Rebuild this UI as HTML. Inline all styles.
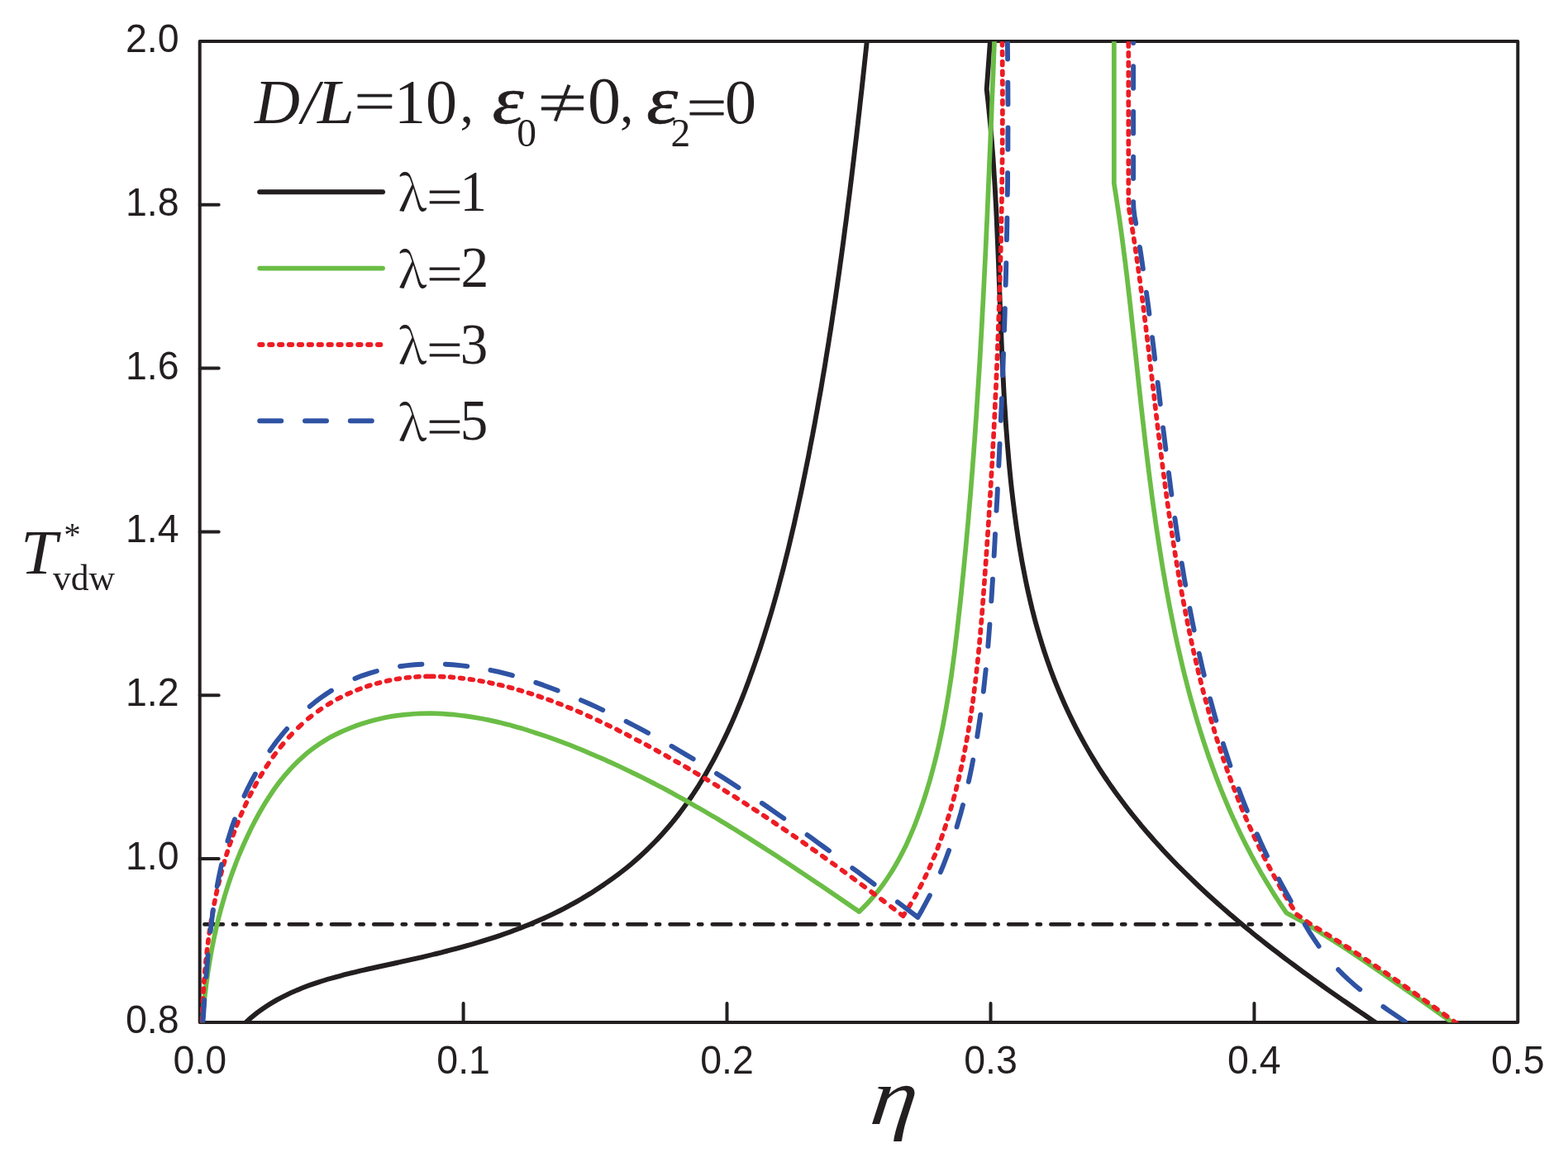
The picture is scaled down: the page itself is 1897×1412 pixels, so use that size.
<!DOCTYPE html>
<html lang="en"><head><meta charset="utf-8"><title>T*vdw vs eta</title>
<style>html,body{margin:0;padding:0;background:#fff}body{width:1897px;height:1412px;overflow:hidden}svg{display:block}.a{font-family:"Liberation Sans",Arial,Helvetica,sans-serif;font-size:46.5px;fill:#231f20}.s{font-family:"Liberation Serif","Times New Roman",Times,serif;fill:#231f20}.c{fill:none;stroke-linecap:round;stroke-linejoin:round}</style></head><body>
<svg xmlns="http://www.w3.org/2000/svg" width="1897" height="1412" viewBox="0 0 1897 1412">
<rect width="1897" height="1412" fill="#fff"/>
<defs><clipPath id="cp"><rect x="241.4" y="50.2" width="1595.2" height="1187.1"/></clipPath></defs>
<g fill="none" stroke="#231f20" stroke-width="4.0" stroke-linecap="round" stroke-linejoin="round">
<rect x="241.7" y="50.0" width="1594.6" height="1186.9"/>
<path d="M560.6 1236.9V1213.9M879.5 1236.9V1213.9M1198.5 1236.9V1213.9M1517.4 1236.9V1213.9M241.7 247.8H264.7M241.7 445.6H264.7M241.7 643.5H264.7M241.7 841.3H264.7M241.7 1039.1H264.7"/>
</g>
<g clip-path="url(#cp)" class="c">
<path d="M247.4 1118.4H1565.0" stroke="#231f20" stroke-width="4.7" stroke-dasharray="22.4 12.1 4.2 12.5"/>
<path d="M291 1243.5C294.4 1240.2 297.7 1236.7 301.3 1233.5C304.7 1230.4 308.4 1227.5 312.1 1224.6C315.8 1221.9 319.6 1219.2 323.5 1216.7C327.4 1214.2 331.3 1211.9 335.3 1209.6C339.4 1207.4 343.5 1205.3 347.6 1203.3C351.7 1201.3 356 1199.5 360.2 1197.7C364.5 1195.9 368.8 1194.2 373.1 1192.6C377.4 1191 381.8 1189.5 386.2 1188.1C390.7 1186.7 395.1 1185.3 399.6 1184C404.1 1182.7 408.6 1181.4 413.1 1180.3C417.6 1179 422.2 1177.9 426.7 1176.8C431.3 1175.7 435.9 1174.6 440.5 1173.6C445.1 1172.5 449.7 1171.5 454.3 1170.5C458.9 1169.5 463.5 1168.5 468.2 1167.5C472.8 1166.5 477.4 1165.5 482 1164.5C486.6 1163.4 491.2 1162.4 495.8 1161.4C500.4 1160.4 505 1159.3 509.6 1158.3C514.2 1157.2 518.8 1156.1 523.3 1155C527.9 1153.9 532.5 1152.8 537 1151.6C541.6 1150.5 546.1 1149.3 550.6 1148.1C555.2 1146.9 559.7 1145.7 564.2 1144.4C568.7 1143.2 573.2 1141.9 577.6 1140.5C582.1 1139.2 586.6 1137.8 591 1136.4C595.5 1135 599.9 1133.6 604.3 1132.1C608.7 1130.6 613.1 1129 617.5 1127.5C621.9 1125.9 626.2 1124.2 630.6 1122.5C634.9 1120.9 639.2 1119.1 643.5 1117.3C647.8 1115.5 652.1 1113.7 656.4 1111.8C660.6 1109.9 664.9 1107.9 669.1 1105.9C673.3 1103.8 677.5 1101.7 681.7 1099.6C685.8 1097.4 690 1095.2 694.1 1092.9C698.2 1090.7 702.2 1088.3 706.3 1085.9C710.3 1083.5 714.3 1081.1 718.3 1078.5C722.2 1076 726.1 1073.4 730 1070.8C733.9 1068.1 737.7 1065.4 741.5 1062.7C745.3 1059.9 749 1057.1 752.7 1054.2C756.4 1051.3 760 1048.4 763.6 1045.4C767.2 1042.4 770.7 1039.3 774.1 1036.2C777.6 1033.1 781 1029.9 784.3 1026.6C787.7 1023.4 790.9 1020.1 794.1 1016.8C797.3 1013.4 800.5 1010 803.5 1006.5C806.6 1003.1 809.6 999.5 812.6 996C815.5 992.4 818.4 988.8 821.2 985.1C824 981.4 826.8 977.7 829.5 973.9C832.2 970.1 834.9 966.3 837.5 962.5C840 958.6 842.6 954.7 845.1 950.8C847.5 946.8 850 942.9 852.4 938.8C854.7 934.8 857.1 930.8 859.3 926.7C861.6 922.6 863.8 918.5 866 914.3C868.2 910.2 870.3 906 872.4 901.8C874.5 897.6 876.6 893.4 878.6 889.1C880.6 884.8 882.6 880.6 884.5 876.3C886.4 871.9 888.3 867.6 890.1 863.3C892 858.9 893.8 854.6 895.6 850.2C897.3 845.8 899.1 841.4 900.8 837C902.5 832.6 904.1 828.2 905.8 823.8C907.4 819.3 909 814.9 910.6 810.4C912.2 806 913.7 801.6 915.3 797.1C916.8 792.6 918.3 788.2 919.8 783.7C921.2 779.3 922.7 774.8 924.1 770.3C925.5 765.9 926.9 761.4 928.3 756.9C929.7 752.4 931 748 932.4 743.5C933.7 739 935 734.5 936.3 730C937.6 725.5 938.8 721 940.1 716.5C941.3 712 942.5 707.5 943.7 703C944.9 698.5 946.1 694 947.3 689.5C948.5 685 949.6 680.5 950.7 675.9C951.9 671.4 953 666.9 954.1 662.4C955.2 657.8 956.2 653.3 957.3 648.8C958.4 644.2 959.4 639.7 960.5 635.2C961.5 630.6 962.5 626.1 963.5 621.5C964.6 617 965.6 612.4 966.5 607.9C967.5 603.3 968.5 598.8 969.5 594.2C970.4 589.6 971.4 585.1 972.3 580.5C973.3 576 974.2 571.4 975.1 566.8C976 562.2 977 557.7 977.9 553.1C978.8 548.5 979.7 543.9 980.5 539.3C981.4 534.8 982.3 530.2 983.2 525.6C984 521 984.9 516.4 985.8 511.8C986.6 507.2 987.4 502.6 988.3 498C989.1 493.4 989.9 488.8 990.7 484.2C991.6 479.6 992.4 475 993.2 470.4C994 465.8 994.8 461.2 995.5 456.6C996.3 452 997.1 447.3 997.9 442.7C998.6 438.1 999.4 433.5 1000.1 428.9C1000.9 424.2 1001.6 419.6 1002.4 415C1003.1 410.4 1003.8 405.7 1004.6 401.1C1005.3 396.5 1006 391.9 1006.7 387.2C1007.4 382.6 1008.1 378 1008.8 373.3C1009.5 368.7 1010.2 364.1 1010.9 359.4C1011.5 354.8 1012.2 350.2 1012.9 345.5C1013.5 340.9 1014.2 336.2 1014.9 331.6C1015.5 327 1016.2 322.3 1016.8 317.7C1017.5 313 1018.1 308.4 1018.7 303.8C1019.4 299.1 1020 294.5 1020.6 289.8C1021.2 285.2 1021.8 280.5 1022.4 275.9C1023.1 271.2 1023.7 266.6 1024.3 261.9C1024.9 257.3 1025.4 252.6 1026 248C1026.6 243.3 1027.2 238.7 1027.8 234.1C1028.4 229.4 1028.9 224.8 1029.5 220.1C1030.1 215.5 1030.7 210.8 1031.2 206.2C1031.8 201.5 1032.3 196.9 1032.9 192.2C1033.4 187.6 1034 182.9 1034.5 178.3C1035.1 173.6 1035.6 169 1036.2 164.3C1036.7 159.7 1037.2 155 1037.8 150.4C1038.3 145.7 1038.8 141.1 1039.4 136.4C1039.9 131.8 1040.4 127.1 1040.9 122.5C1041.4 117.9 1042 113.2 1042.5 108.6C1043 103.9 1043.5 99.3 1044 94.6C1044.5 90 1045 85.4 1045.5 80.7C1046 76.1 1046.5 71.4 1047 66.8C1047.5 62.2 1048 57.5 1048.5 52.9C1049 48.3 1049.5 43.6 1050 39M1198.3 44C1198.2 46.1 1198.1 48.3 1197.9 50.4C1196.5 69.7 1195.1 88.9 1193.7 108.2C1194.2 112.9 1194.8 117.5 1195.3 122.2C1195.8 126.8 1196.3 131.5 1196.7 136.2C1197.2 140.8 1197.6 145.5 1198.1 150.1C1198.5 154.8 1198.9 159.5 1199.3 164.1C1199.7 168.8 1200.1 173.4 1200.4 178.1C1200.8 182.8 1201.1 187.4 1201.5 192.1C1201.8 196.8 1202.1 201.4 1202.4 206.1C1202.7 210.8 1203 215.4 1203.3 220.1C1203.6 224.8 1203.9 229.4 1204.1 234.1C1204.4 238.8 1204.6 243.4 1204.9 248.1C1205.1 252.8 1205.4 257.4 1205.6 262.1C1205.8 266.8 1206 271.4 1206.2 276.1C1206.4 280.8 1206.6 285.4 1206.8 290.1C1207 294.8 1207.2 299.4 1207.4 304.1C1207.6 308.8 1207.8 313.5 1208 318.1C1208.2 322.8 1208.3 327.5 1208.5 332.1C1208.7 336.8 1208.9 341.5 1209 346.2C1209.2 350.8 1209.4 355.5 1209.6 360.2C1209.7 364.8 1209.9 369.5 1210.1 374.2C1210.2 378.8 1210.4 383.5 1210.6 388.2C1210.8 392.9 1211 397.5 1211.2 402.2C1211.3 406.9 1211.5 411.5 1211.7 416.2C1211.9 420.9 1212.1 425.6 1212.3 430.2C1212.5 434.9 1212.8 439.6 1213 444.2C1213.2 448.9 1213.4 453.6 1213.7 458.2C1213.9 462.9 1214.2 467.6 1214.4 472.2C1214.7 476.9 1214.9 481.6 1215.2 486.3C1215.5 490.9 1215.8 495.6 1216.1 500.3C1216.4 504.9 1216.7 509.6 1217 514.3C1217.4 518.9 1217.7 523.6 1218.1 528.3C1218.4 532.9 1218.8 537.6 1219.2 542.3C1219.6 546.9 1220 551.6 1220.4 556.3C1220.8 560.9 1221.3 565.6 1221.7 570.2C1222.2 574.9 1222.6 579.6 1223.1 584.2C1223.6 588.9 1224.1 593.6 1224.7 598.2C1225.2 602.9 1225.8 607.5 1226.4 612.2C1226.9 616.9 1227.5 621.5 1228.2 626.2C1228.8 630.8 1229.4 635.5 1230.1 640.1C1230.8 644.8 1231.5 649.4 1232.2 654.1C1232.9 658.7 1233.7 663.3 1234.5 668C1235.3 672.6 1236.1 677.2 1236.9 681.9C1237.8 686.5 1238.7 691.1 1239.6 695.7C1240.5 700.3 1241.4 704.9 1242.4 709.5C1243.4 714.1 1244.4 718.6 1245.5 723.2C1246.5 727.8 1247.6 732.3 1248.7 736.9C1249.9 741.4 1251 745.9 1252.2 750.5C1253.4 755 1254.7 759.5 1256 764C1257.3 768.5 1258.6 772.9 1260 777.4C1261.3 781.9 1262.8 786.3 1264.2 790.7C1265.7 795.2 1267.2 799.6 1268.8 804C1270.3 808.4 1271.9 812.7 1273.6 817.1C1275.2 821.5 1276.9 825.8 1278.7 830.1C1280.4 834.4 1282.2 838.7 1284.1 843C1285.9 847.3 1287.8 851.6 1289.7 855.8C1291.7 860 1293.6 864.2 1295.7 868.4C1297.7 872.6 1299.8 876.8 1301.9 880.9C1304 885 1306.2 889.2 1308.4 893.2C1310.6 897.3 1312.9 901.4 1315.2 905.4C1317.5 909.5 1319.9 913.5 1322.3 917.4C1324.7 921.4 1327.1 925.4 1329.6 929.3C1332.1 933.2 1334.7 937.1 1337.3 941C1339.9 944.8 1342.5 948.7 1345.2 952.5C1347.8 956.3 1350.5 960.1 1353.3 963.8C1356.1 967.6 1358.9 971.3 1361.7 975C1364.5 978.7 1367.4 982.3 1370.3 986C1373.2 989.6 1376.2 993.2 1379.2 996.8C1382.1 1000.4 1385.2 1004 1388.2 1007.5C1391.3 1011.1 1394.4 1014.6 1397.5 1018.1C1400.6 1021.6 1403.8 1025 1406.9 1028.5C1410.1 1031.9 1413.3 1035.3 1416.6 1038.7C1419.8 1042.1 1423.1 1045.4 1426.4 1048.8C1429.7 1052.1 1433 1055.4 1436.4 1058.7C1439.7 1062 1443.1 1065.3 1446.5 1068.5C1449.9 1071.8 1453.3 1075 1456.8 1078.2C1460.2 1081.4 1463.7 1084.6 1467.2 1087.7C1470.7 1090.9 1474.2 1094 1477.7 1097.1C1481.3 1100.2 1484.8 1103.3 1488.4 1106.4C1491.9 1109.4 1495.5 1112.5 1499.1 1115.5C1502.7 1118.5 1506.3 1121.5 1510 1124.5C1513.6 1127.5 1517.3 1130.4 1520.9 1133.4C1524.6 1136.3 1528.2 1139.2 1531.9 1142.1C1535.6 1145 1539.3 1147.9 1543 1150.7C1546.7 1153.6 1550.5 1156.5 1554.2 1159.3C1557.9 1162.1 1561.7 1164.9 1565.4 1167.7C1569.2 1170.5 1572.9 1173.3 1576.7 1176.1C1580.5 1178.8 1584.3 1181.6 1588.1 1184.3C1591.9 1187 1595.7 1189.8 1599.5 1192.5C1603.3 1195.2 1607.1 1197.9 1610.9 1200.6C1614.7 1203.2 1618.5 1205.9 1622.4 1208.6C1626.2 1211.2 1630 1213.9 1633.9 1216.5C1637.7 1219.2 1641.5 1221.8 1645.4 1224.4C1649.2 1227 1653.1 1229.6 1656.9 1232.2C1660.8 1234.8 1664.6 1237.4 1668.5 1240" stroke="#231f20" stroke-width="5.9"/>
<path d="M244.6 1240C245 1235.3 245.3 1230.6 245.7 1225.9C246.2 1221.3 246.6 1216.6 247.1 1211.9C247.6 1207.2 248.1 1202.5 248.7 1197.9C249.2 1193.2 249.8 1188.5 250.5 1183.9C251.1 1179.2 251.8 1174.6 252.6 1169.9C253.3 1165.3 254.1 1160.7 254.9 1156C255.7 1151.4 256.6 1146.8 257.5 1142.2C258.4 1137.6 259.3 1133 260.4 1128.4C261.4 1123.8 262.4 1119.3 263.5 1114.7C264.6 1110.2 265.8 1105.6 267 1101.1C268.2 1096.6 269.5 1092.1 270.8 1087.6C272.1 1083.1 273.5 1078.6 274.9 1074.1C276.3 1069.7 277.8 1065.2 279.4 1060.8C280.9 1056.4 282.5 1052 284.2 1047.6C285.8 1043.2 287.5 1038.8 289.3 1034.5C291.1 1030.1 293 1025.8 294.9 1021.5C296.8 1017.2 298.8 1012.9 300.8 1008.7C302.8 1004.4 304.9 1000.2 307.1 996C309.3 991.8 311.5 987.6 313.8 983.5C316.2 979.3 318.5 975.3 321 971.2C323.5 967.2 326.1 963.2 328.7 959.3C331.3 955.4 334.1 951.6 336.9 947.8C339.7 944.1 342.7 940.4 345.7 936.9C348.7 933.3 351.8 929.8 355.1 926.5C358.3 923.1 361.6 919.9 365.1 916.8C368.6 913.6 372.1 910.6 375.8 907.8C379.5 904.9 383.3 902.2 387.2 899.6C391.2 897.1 395.2 894.6 399.3 892.3C403.4 890 407.7 887.9 411.9 885.9C416.2 883.9 420.6 882 425 880.3C429.4 878.5 433.9 876.9 438.4 875.5C443 874 447.5 872.7 452.1 871.5C456.7 870.3 461.3 869.2 465.9 868.3C470.5 867.4 475.1 866.6 479.8 865.9C484.4 865.3 489 864.7 493.6 864.3C498.3 863.9 502.9 863.6 507.5 863.4C512.2 863.3 516.8 863.2 521.5 863.2C526.1 863.3 530.7 863.4 535.4 863.7C540 863.9 544.7 864.3 549.3 864.7C553.9 865.2 558.6 865.7 563.2 866.4C567.8 867 572.4 867.7 577 868.5C581.7 869.3 586.3 870.2 590.9 871.1C595.5 872.1 600.1 873.1 604.7 874.2C609.3 875.3 613.8 876.5 618.4 877.7C623 879 627.5 880.3 632.1 881.6C636.6 883 641.1 884.4 645.6 885.9C650.2 887.3 654.7 888.8 659.2 890.4C663.6 891.9 668.1 893.5 672.6 895.2C677 896.8 681.5 898.5 685.9 900.2C690.3 901.9 694.7 903.6 699.1 905.4C703.5 907.1 707.8 908.9 712.2 910.8C716.5 912.6 720.8 914.5 725.2 916.3C729.5 918.2 733.8 920.1 738.1 922.1C742.3 924 746.6 926 750.9 928C755.1 930 759.3 932 763.6 934.1C767.8 936.1 772 938.2 776.2 940.3C780.4 942.4 784.6 944.5 788.7 946.6C792.9 948.8 797.1 950.9 801.2 953.1C805.3 955.3 809.5 957.5 813.6 959.8C817.7 962 821.8 964.3 825.9 966.5C830 968.8 834.1 971.1 838.1 973.4C842.2 975.8 846.3 978.1 850.3 980.4C854.4 982.8 858.4 985.2 862.4 987.6C866.5 989.9 870.5 992.4 874.5 994.8C878.5 997.2 882.5 999.6 886.5 1002.1C890.5 1004.5 894.5 1007 898.5 1009.5C902.4 1012 906.4 1014.5 910.4 1017C914.3 1019.5 918.3 1022 922.2 1024.5C926.2 1027.1 930.1 1029.6 934.1 1032.2C938 1034.7 942 1037.3 945.9 1039.9C949.8 1042.5 953.7 1045.1 957.6 1047.6C961.6 1050.2 965.5 1052.9 969.4 1055.5C973.3 1058.1 977.2 1060.7 981.1 1063.3C985 1066 988.9 1068.6 992.8 1071.2C996.7 1073.9 1000.6 1076.5 1004.5 1079.2C1008.4 1081.8 1012.3 1084.5 1016.2 1087.1C1020.1 1089.8 1024 1092.4 1027.8 1095.1C1031.7 1097.8 1035.6 1100.4 1039.5 1103.1C1042.9 1099.7 1046.4 1096.3 1049.7 1092.8C1052.9 1089.3 1056.1 1085.7 1059.1 1082C1062.1 1078.4 1065 1074.7 1067.8 1070.8C1070.6 1067 1073.2 1063.2 1075.8 1059.2C1078.4 1055.3 1080.8 1051.3 1083.2 1047.2C1085.6 1043.2 1087.8 1039.1 1090 1034.9C1092.2 1030.8 1094.2 1026.6 1096.3 1022.4C1098.3 1018.1 1100.2 1013.8 1102 1009.5C1103.9 1005.2 1105.7 1000.9 1107.4 996.5C1109.1 992.1 1110.7 987.7 1112.3 983.3C1113.9 978.9 1115.5 974.4 1116.9 970C1118.4 965.5 1119.9 961.1 1121.2 956.6C1122.6 952.1 1124 947.6 1125.3 943C1126.5 938.5 1127.8 934 1129 929.4C1130.2 924.9 1131.3 920.3 1132.5 915.8C1133.6 911.2 1134.7 906.6 1135.7 902C1136.7 897.4 1137.7 892.8 1138.7 888.2C1139.7 883.6 1140.6 878.9 1141.5 874.3C1142.4 869.6 1143.2 865 1144.1 860.3C1144.9 855.7 1145.7 851 1146.5 846.3C1147.3 841.7 1148 837 1148.7 832.3C1149.5 827.6 1150.2 822.9 1150.9 818.2C1151.5 813.5 1152.2 808.8 1152.8 804.1C1153.5 799.4 1154.1 794.7 1154.7 790C1155.3 785.3 1155.9 780.6 1156.4 775.8C1157 771.1 1157.6 766.4 1158.1 761.7C1158.7 757 1159.2 752.2 1159.7 747.5C1160.2 742.8 1160.8 738.1 1161.3 733.3C1161.8 728.6 1162.3 723.9 1162.8 719.2C1163.3 714.5 1163.8 709.7 1164.2 705C1164.7 700.3 1165.2 695.6 1165.7 690.9C1166.1 686.2 1166.6 681.4 1167 676.7C1167.5 672 1167.9 667.3 1168.4 662.6C1168.8 657.9 1169.3 653.1 1169.7 648.4C1170.1 643.7 1170.5 639 1171 634.3C1171.4 629.6 1171.8 624.9 1172.2 620.1C1172.6 615.4 1173 610.7 1173.4 606C1173.8 601.3 1174.2 596.6 1174.6 591.9C1174.9 587.2 1175.3 582.5 1175.7 577.7C1176.1 573 1176.4 568.3 1176.8 563.6C1177.1 558.9 1177.5 554.2 1177.9 549.5C1178.2 544.8 1178.5 540.1 1178.9 535.4C1179.2 530.6 1179.6 525.9 1179.9 521.2C1180.2 516.5 1180.5 511.8 1180.9 507.1C1181.2 502.4 1181.5 497.7 1181.8 493C1182.1 488.3 1182.4 483.6 1182.7 478.8C1183 474.1 1183.3 469.4 1183.6 464.7C1183.9 460 1184.2 455.3 1184.5 450.6C1184.8 445.9 1185.1 441.2 1185.4 436.5C1185.6 431.8 1185.9 427 1186.2 422.3C1186.5 417.6 1186.7 412.9 1187 408.2C1187.3 403.5 1187.5 398.8 1187.8 394.1C1188 389.4 1188.3 384.7 1188.5 380C1188.8 375.2 1189 370.5 1189.3 365.8C1189.5 361.1 1189.8 356.4 1190 351.7C1190.3 347 1190.5 342.3 1190.7 337.6C1191 332.9 1191.2 328.1 1191.4 323.4C1191.7 318.7 1191.9 314 1192.1 309.3C1192.3 304.6 1192.6 299.9 1192.8 295.1C1193 290.4 1193.2 285.7 1193.4 281C1193.6 276.3 1193.9 271.6 1194.1 266.9C1194.3 262.1 1194.5 257.4 1194.7 252.7C1194.9 248 1195.1 243.3 1195.3 238.6C1195.5 233.8 1195.7 229.1 1195.9 224.4C1196.1 219.7 1196.3 215 1196.5 210.3C1196.7 205.5 1196.9 200.8 1197.1 196.1C1197.3 191.4 1197.5 186.6 1197.7 181.9C1197.9 177.2 1198.1 172.5 1198.3 167.8C1198.5 163 1198.7 158.3 1198.9 153.6C1199.1 148.9 1199.3 144.1 1199.5 139.4C1199.7 134.7 1199.8 129.9 1200 125.2C1200.2 120.5 1200.4 115.8 1200.6 111C1200.8 106.3 1201 101.6 1201.2 96.8C1201.4 92.1 1201.6 87.4 1201.8 82.6C1202 77.9 1202.1 73.2 1202.3 68.4C1202.5 63.7 1202.7 59 1202.9 54.2C1203.1 49.5 1203.3 44.7 1203.5 40M1347.8 40L1347.8 222C1348.5 226.6 1349.3 231.3 1350 235.9C1350.7 240.6 1351.4 245.2 1352.1 249.9C1352.8 254.5 1353.5 259.2 1354.2 263.8C1354.8 268.4 1355.5 273.1 1356.1 277.7C1356.8 282.4 1357.4 287.1 1358 291.7C1358.6 296.4 1359.2 301 1359.8 305.7C1360.4 310.3 1361 315 1361.6 319.6C1362.1 324.3 1362.7 329 1363.3 333.6C1363.8 338.3 1364.4 342.9 1364.9 347.6C1365.4 352.3 1366 356.9 1366.5 361.6C1367 366.2 1367.6 370.9 1368.1 375.6C1368.6 380.2 1369.1 384.9 1369.6 389.6C1370.1 394.2 1370.6 398.9 1371.1 403.6C1371.6 408.2 1372.2 412.9 1372.7 417.6C1373.2 422.2 1373.7 426.9 1374.2 431.6C1374.7 436.2 1375.2 440.9 1375.7 445.6C1376.2 450.2 1376.7 454.9 1377.2 459.6C1377.7 464.2 1378.2 468.9 1378.7 473.6C1379.2 478.2 1379.7 482.9 1380.2 487.6C1380.7 492.2 1381.3 496.9 1381.8 501.6C1382.3 506.2 1382.8 510.9 1383.4 515.6C1383.9 520.2 1384.4 524.9 1385 529.6C1385.5 534.2 1386 538.9 1386.6 543.6C1387.2 548.2 1387.7 552.9 1388.3 557.6C1388.9 562.2 1389.4 566.9 1390 571.6C1390.6 576.2 1391.2 580.9 1391.8 585.5C1392.4 590.2 1393 594.9 1393.6 599.5C1394.2 604.2 1394.9 608.8 1395.5 613.5C1396.2 618.1 1396.8 622.8 1397.5 627.4C1398.1 632.1 1398.8 636.7 1399.5 641.4C1400.2 646 1400.9 650.7 1401.6 655.3C1402.3 660 1403 664.6 1403.8 669.3C1404.5 673.9 1405.3 678.6 1406 683.2C1406.8 687.8 1407.6 692.5 1408.4 697.1C1409.2 701.8 1410 706.4 1410.8 711C1411.7 715.6 1412.5 720.3 1413.4 724.9C1414.2 729.5 1415.1 734.2 1416 738.8C1416.9 743.4 1417.8 748 1418.8 752.6C1419.7 757.3 1420.7 761.9 1421.6 766.5C1422.6 771.1 1423.6 775.7 1424.6 780.3C1425.7 784.9 1426.7 789.5 1427.8 794.1C1428.8 798.6 1429.9 803.2 1431 807.8C1432.1 812.4 1433.2 816.9 1434.4 821.5C1435.6 826.1 1436.7 830.6 1437.9 835.2C1439.1 839.7 1440.4 844.2 1441.6 848.8C1442.9 853.3 1444.2 857.8 1445.5 862.3C1446.8 866.9 1448.1 871.4 1449.5 875.8C1450.8 880.3 1452.2 884.8 1453.7 889.3C1455.1 893.8 1456.5 898.2 1458 902.7C1459.5 907.1 1461 911.6 1462.5 916C1464.1 920.4 1465.7 924.8 1467.3 929.2C1468.9 933.6 1470.5 938 1472.2 942.4C1473.8 946.7 1475.5 951.1 1477.3 955.5C1479 959.8 1480.8 964.1 1482.6 968.4C1484.4 972.8 1486.2 977.1 1488.1 981.3C1490 985.6 1491.9 989.9 1493.9 994.1C1495.8 998.4 1497.8 1002.6 1499.8 1006.9C1501.9 1011.1 1503.9 1015.3 1506 1019.5C1508.1 1023.6 1510.3 1027.8 1512.5 1031.9C1514.6 1036.1 1516.9 1040.2 1519.1 1044.3C1521.4 1048.4 1523.7 1052.5 1526 1056.6C1528.4 1060.7 1530.8 1064.7 1533.2 1068.7C1535.7 1072.8 1538.1 1076.8 1540.6 1080.8C1543.2 1084.7 1545.7 1088.7 1548.3 1092.6C1550.9 1096.6 1553.6 1100.5 1556.3 1104.4L1579.7 1117.2C1598.6 1129.2 1617.8 1140.9 1636.5 1153.3C1658.4 1167.8 1679.9 1182.9 1701.5 1197.9C1719.7 1210.5 1737.6 1223.4 1755.7 1236.2C1757.5 1237.5 1759.2 1238.7 1761 1240" stroke="#6abd45" stroke-width="5.7"/>
<path d="M244.3 1235.8L244.5 1231.8M244.8 1223.8L245 1219.8M245.4 1212L245.6 1208M246 1200L246.3 1196M246.8 1188.3L247.2 1184.3M247.8 1176.3L248.2 1172.4M248.9 1164.6L249.3 1160.7M250.2 1152.7L250.6 1148.7M251.6 1140.8L252.1 1136.8M253.2 1129.1L253.8 1124.9M255 1117.3L255.6 1113.1M257 1105.4L257.7 1101.2M259.2 1093.4L260 1089.5M261.6 1081.6L262.5 1077.7M264.3 1069.7L265.3 1065.8M267.2 1058L268.3 1053.9M270.4 1046.2L271.6 1042.1M274 1034.2L275.3 1030.1M277.8 1022.3L279.2 1018.3M281.9 1010.5L283.4 1006.5M286.3 998.8L288 994.6M291.2 986.7L292.9 982.8M296.4 975.1L298.3 971M302.1 963.1L304.1 959.1M308.2 951.3L310.3 947.4M315 939.4L317.3 935.5M322.2 927.7L325 923.5M330.4 915.7L333.3 911.7M339.3 904L342.6 899.9M349.5 892L353.1 888.1M360.8 880.3L364.9 876.5M372.8 869.6L376.7 866.5M384.7 860.5L388.5 857.8M396.5 852.6L400.4 850.2M408.2 845.8L412.2 843.7M420.1 839.9L424.2 838.1M432 834.8L436 833.3M443.8 830.5L447.8 829.2M455.7 826.9L459.6 825.9M467.6 824L471.6 823.1M479.4 821.7L483.4 821.1M491.3 820L495.3 819.6M503 819L507 818.7M515 818.4L519 818.4M520.8 818.4L524.8 818.4M532.8 818.6L536.8 818.8M544.5 819.2L548.5 819.6M556.5 820.4L560.4 820.8M568.4 821.9L572.3 822.5M580.2 823.8L584.1 824.5M592 826L595.9 826.9M603.7 828.6L607.9 829.6M615.6 831.5L619.7 832.6M627.4 834.8L631.5 836M639.4 838.4L643.5 839.7M651.3 842.3L655.3 843.7M663.1 846.4L667.1 847.9M675 850.9L679 852.4M686.9 855.6L690.8 857.2M698.6 860.5L702.6 862.2M710.6 865.8L714.4 867.5M722.4 871.2L726.2 873M734.1 876.8L738.2 878.8M746 882.6L750 884.7M757.8 888.6L761.8 890.7M769.8 894.9L773.8 897M781.5 901.1L785.5 903.2M793.4 907.5L797.3 909.7M805.2 914.1L809.3 916.4M817.2 920.9L821.1 923.1M828.9 927.6L833 930M840.7 934.6L844.8 937M852.8 941.7L856.6 944.1M864.5 948.9L868.6 951.4M876.4 956.3L880.4 958.8M888.3 963.7L892.3 966.3M900.1 971.2L904.1 973.8M911.8 978.9L916 981.6M923.7 986.7L927.7 989.3M935.6 994.6L939.5 997.3M947.4 1002.6L951.5 1005.4M959.4 1010.8L963.3 1013.5M971.1 1018.9L975.2 1021.8M982.9 1027.3L987 1030.1M994.8 1035.7L998.8 1038.6M1006.8 1044.3L1010.6 1047M1018.5 1052.8L1022.5 1055.7M1030.4 1061.5L1034.4 1064.5M1042.3 1070.3L1046.3 1073.2M1054.1 1079.1L1058.1 1082.1M1065.9 1087.9L1069.9 1090.9M1077.9 1097L1081.9 1100M1089.6 1105.9L1092.6 1108.2M1092.6 1108.2L1094.4 1105.5M1099.5 1097.5L1101.8 1093.6M1106.5 1085.6L1108.7 1081.7M1112.9 1073.8L1115 1069.8M1118.9 1061.9L1120.7 1058.1M1124.4 1050.1L1126.1 1046.2M1129.5 1038.2L1131.2 1034.3M1134.3 1026.4L1135.8 1022.4M1138.7 1014.6L1140.1 1010.6M1142.8 1002.8L1144.1 998.8M1146.6 990.9L1147.9 986.9M1150.2 979L1151.3 975.1M1153.5 967.2L1154.6 963.1M1156.7 955.3L1157.6 951.4M1159.6 943.4L1160.5 939.5M1162.3 931.7L1163.2 927.6M1164.9 919.7L1165.7 915.8M1167.2 908L1168 904M1169.4 896.2L1170.2 892M1171.6 884.1L1172.2 880.2M1173.5 872.3L1174.1 868.3M1175.3 860.6L1175.9 856.4M1177 848.8L1177.5 844.8M1178.5 836.9L1179 832.9M1180 824.9L1180.5 821M1181.4 813L1181.8 809M1182.7 801.3L1183.1 797.4M1183.9 789.4L1184.3 785.4M1185 777.7L1185.4 773.5M1186.1 765.7L1186.4 761.8M1187.1 753.8L1187.5 749.8M1188.1 742.1L1188.4 738.1M1189 730.1L1189.3 726.1M1189.9 718.4L1190.2 714.4M1190.8 706.4L1191.1 702.4M1191.6 694.7L1191.9 690.7M1192.5 682.7L1192.8 678.7M1193.3 671L1193.6 667M1194.1 659L1194.4 655M1194.9 647.3L1195.2 643.3M1195.7 635.3L1196 631.3M1196.5 623.6L1196.7 619.6M1197.2 611.6L1197.5 607.6M1197.9 599.9L1198.2 595.9M1198.6 587.9L1198.9 583.9M1199.3 576.1L1199.6 572.2M1200 564.2L1200.3 560.2M1200.7 552.4L1200.9 548.4M1201.3 540.7L1201.5 536.7M1202 528.7L1202.2 524.7M1202.6 517L1202.8 513M1203.2 505L1203.4 501M1203.8 493.2L1203.9 489.2M1204.3 481.3L1204.5 477.3M1204.9 469.5L1205.1 465.5M1205.4 457.5L1205.6 453.5M1205.9 445.8L1206.1 441.8M1206.4 434L1206.6 430M1206.9 422L1207 418M1207.3 410.3L1207.5 406.3M1207.8 398.3L1207.9 394.3M1208.2 386.6L1208.4 382.6M1208.6 374.6L1208.8 370.6M1209 362.8L1209.1 358.8M1209.4 351.1L1209.5 347.1M1209.7 339.1L1209.8 335.1M1210.1 327.3L1210.2 323.3M1210.4 315.3L1210.5 311.3M1210.7 303.6L1210.8 299.6M1211 291.8L1211 287.8M1211.2 279.8L1211.3 275.8M1211.5 268.1L1211.5 264.1M1211.7 256.1L1211.8 252.1M1211.9 244.3L1212 240.3M1212.1 232.6L1212.1 228.6M1212.2 220.6L1212.3 216.6M1212.4 208.8L1212.4 204.8M1212.5 197L1212.6 193M1212.6 185L1212.7 181M1212.7 173.3L1212.7 169.3M1212.8 161.3L1212.8 157.3M1212.8 149.5L1212.9 145.5M1212.9 137.8L1212.9 133.8M1212.9 125.8L1212.9 121.8M1212.9 114L1212.9 110M1212.9 102L1212.8 98M1212.8 90.3L1212.8 86.3M1212.7 78.5L1212.7 74.5M1212.7 66.5L1212.6 62.5M1212.6 54.8L1212.5 50.8M1365.3 52L1365.3 56M1365.3 63.8L1365.3 67.8M1365.3 75.6L1365.3 79.6M1365.3 87.6L1365.3 91.6M1365.3 99.4L1365.3 103.4M1365.3 111.1L1365.3 115.1M1365.3 123.1L1365.3 127.2M1365.3 134.9L1365.3 138.9M1365.3 146.7L1365.3 150.7M1365.3 158.7L1365.3 162.7M1365.3 170.5L1365.3 174.5M1365.3 182.2L1365.3 186.3M1365.3 194.3L1365.3 198.3M1365.3 206L1365.3 210M1365.3 217.8L1365.3 221.8M1365.3 229.8L1365.3 233.8M1365.4 241.6L1365.6 245.6M1366 253.3L1366.7 257.5M1368 265.2L1368.7 269.4M1369.9 277L1370.6 281.2M1371.8 288.9L1372.4 292.9M1373.6 300.8L1374.1 304.7M1375.3 312.6L1375.9 316.6M1377 324.5L1377.5 328.5M1378.6 336.4L1379.2 340.4M1380.2 348.3L1380.8 352.3M1381.8 360L1382.3 364.2M1383.3 371.9L1383.8 375.9M1384.8 383.8L1385.3 387.8M1386.3 395.7L1386.7 399.7M1387.7 407.4L1388.2 411.6M1389.1 419.3L1389.6 423.3M1390.5 431.2L1391 435.2M1391.9 443.1L1392.4 447.1M1393.3 454.8L1393.8 458.8M1394.7 466.7L1395.2 470.7M1396.1 478.7L1396.6 482.6M1397.5 490.3L1398 494.3M1398.9 502.3L1399.4 506.2M1400.3 514.2L1400.8 518.1M1401.8 526.1L1402.3 530.1M1403.2 537.8L1403.7 541.7M1404.7 549.7L1405.2 553.6M1406.2 561.6L1406.7 565.5M1407.7 573.5L1408.3 577.4M1409.3 585.1L1409.8 589.1M1410.9 597L1411.4 601M1412.5 608.9L1413.1 612.9M1414.2 620.8L1414.8 624.8M1415.9 632.7L1416.5 636.7M1417.7 644.6L1418.3 648.5M1419.5 656.4L1420.1 660.4M1421.4 668.3L1422 672.2M1423.3 680.1L1424 684.1M1425.3 692L1426 695.9M1427.3 703.8L1428 707.7M1429.4 715.6L1430.2 719.6M1431.6 727.4L1432.4 731.4M1433.9 739.2L1434.6 743.2M1436.2 751L1437 755.2M1438.6 763L1439.5 766.9M1441.1 774.8L1442 778.9M1443.7 786.7L1444.6 790.6M1446.4 798.4L1447.4 802.6M1449.2 810.4L1450.1 814.3M1452.1 822.3L1453.1 826.2M1455.1 834.2L1456.1 838M1458.2 846L1459.3 849.9M1461.5 857.8L1462.5 861.7M1464.8 869.6L1466 873.7M1468.3 881.4L1469.5 885.4M1471.9 893.3L1473.2 897.4M1475.7 905.2L1477 909.3M1479.6 917.1L1480.9 920.9M1483.7 928.9L1485.1 933M1487.9 940.7L1489.4 944.7M1492.4 952.7L1493.9 956.6M1496.9 964.3L1498.5 968.5M1501.6 976.2L1503.3 980.3M1506.6 988.2L1508.3 992.1M1511.7 999.9L1513.6 1004M1517.1 1011.7L1519 1015.8M1522.8 1023.7L1524.7 1027.7M1528.6 1035.6L1530.6 1039.6M1534.7 1047.4L1536.8 1051.4M1541 1059.3L1543.2 1063.2M1547.6 1071.1L1549.8 1075M1554.5 1083L1556.8 1086.9M1561.6 1094.8L1564.1 1098.8M1569.1 1106.6L1573.1 1109.4M1581 1115.1L1585 1117.8M1592.9 1122.7L1596.7 1125M1604.6 1129.9L1608.7 1132.4M1616.5 1137.4L1620.5 1139.9M1628.3 1145L1632.3 1147.5M1640.3 1152.8L1644.2 1155.4M1652.1 1160.7L1656.1 1163.3M1664 1168.7L1667.9 1171.3M1675.8 1176.7L1679.7 1179.4M1687.5 1184.8L1691.6 1187.7M1699.4 1193.2L1703.5 1196.1M1711.3 1201.6L1715.4 1204.5M1723.1 1210L1727.2 1212.9M1734.9 1218.4L1739 1221.4M1746.9 1227.1L1750.8 1229.9M1758.7 1235.6L1762.8 1238.5" stroke="#ed1c24" stroke-width="5.7"/>
<path d="M245.5 1236.5L246.1 1227.8L246.7 1218.8L247.3 1210.1M249.4 1181.9L250.1 1173.2L250.9 1164.2L251.6 1155.5M254.6 1127.1L255.6 1118.4L256.7 1109.5L257.9 1100.8M262.6 1072.5L264.3 1063.6L266.1 1054.8L268 1046M275.4 1017.7L278.1 1008.8L280.9 1000L284 991.3M295.5 963.1L299.7 954L304.1 945.3L308.9 936.5M326.5 908.3L331.4 901.4L336.4 894.8L341.6 888.4L347.1 881.9M374.7 854.8L380.9 849.7L387.5 844.7L394.2 840L401 835.6M429.4 821L438 817.6L447 814.6L455.9 812M484 806.2L492.7 805.1L501.7 804.3L510.4 803.7M538.9 803.7L547.6 804.3L556.6 805.1L565.3 806.1M593.4 810.8L602.2 812.7L611.2 814.9L619.9 817.2M648.3 825.9L657.1 828.9L666 832.2L674.7 835.5M702.9 847.1L711.8 851L720.4 854.9L729.3 859.1M757.6 872.9L766.5 877.5L775.3 882.2L784.1 886.9M812.5 902.8L821.3 908L829.9 913.1L838.7 918.3M867 935.9L875.9 941.5L884.7 947.2L893.5 952.9M921.8 971.8L928.4 976.3L935 980.9L941.7 985.6L948.3 990.2M976.5 1010.1L983.2 1014.9L989.8 1019.8L996.3 1024.5L1003 1029.3M1031.3 1050.3L1038 1055.2L1044.6 1060.1L1051 1064.9L1057.6 1069.9M1085.9 1091.3L1094.1 1097.5L1102.2 1103.7L1110.4 1109.9M1110.4 1109.9L1115.4 1101.2L1120.3 1092.2L1124.9 1083.3M1137.9 1055.2L1141.5 1046.4L1144.8 1037.8L1148.1 1028.9M1157.5 1000.6L1160.1 991.7L1162.6 983.1L1165 974.1M1171.8 945.9L1173.7 937.1L1175.5 928.3L1177.2 919.5M1182.2 891.2L1183.6 882.3L1184.9 873.6L1186.2 864.7M1189.8 836.7L1190.8 827.7L1191.7 819L1192.7 810.1M1195.3 781.9L1196 773.2L1196.7 764.2L1197.4 755.5M1199.3 727.3L1199.9 718.6L1200.4 709.6L1201 700.8M1202.6 672.6L1203.1 663.9L1203.6 654.9L1204 646.2M1205.5 617.9L1206 609.2L1206.5 600.5L1206.9 591.7M1208.3 563.5L1208.7 554.8L1209.1 545.8L1209.5 537M1210.8 508.8L1211.2 500L1211.6 491L1211.9 482.3M1213.1 454.1L1213.4 445.3L1213.7 436.6L1214 427.8M1215 399.6L1215.3 390.8L1215.6 381.8L1215.8 373.1M1216.6 344.8L1216.9 336.1L1217.1 327.1L1217.3 318.3M1217.9 290.1L1218.1 281.3L1218.3 272.6L1218.4 263.8M1218.8 235.6L1219 226.8L1219.1 217.8L1219.1 209.1M1219.4 180.8L1219.4 172L1219.4 163.3L1219.5 154.5M1219.5 126.3L1219.4 117.5L1219.4 108.5L1219.3 99.8M1219.1 71.5L1219 62.8L1218.9 54L1218.8 45.3M1371.1 40L1371.1 52M1371.1 80.3L1371.1 89.1L1371.1 98.1L1371.1 106.8M1371.1 134.9L1371.1 143.6L1371.1 152.6L1371.1 161.4M1371.1 189.7L1371.1 198.4L1371.1 207.2L1371.1 216M1371.1 244.2L1371.5 253L1372.7 261.9L1374.2 270.5M1378.9 298.9L1380.3 307.8L1381.6 316.5L1382.9 325.4M1386.9 353.6L1388.1 362.3L1389.3 371.2L1390.4 379.9M1394 408.2L1395.1 416.8L1396.2 425.8L1397.2 434.5M1400.6 462.8L1401.7 471.5L1402.7 480.4L1403.8 489.1M1407.1 517.4L1408.2 526.1L1409.3 535L1410.4 543.7M1413.9 572L1415.1 581L1416.2 589.6L1417.4 598.6M1421.3 626.8L1422.6 635.5L1423.9 644.4L1425.2 653M1429.7 681.4L1431.2 690.3L1432.6 698.9L1434.2 707.8M1439.4 736.1L1441.1 744.9L1442.8 753.5L1444.6 762.4M1450.7 790.7L1452.7 799.5L1454.7 808.3L1456.8 817M1464 845.4L1466.4 854.1L1468.8 863L1471.3 871.7M1479.8 899.9L1482.6 908.7L1485.5 917.5L1488.4 926.3M1498.5 954.6L1501.9 963.5L1505.2 972.1L1508.8 980.9M1520.8 1009.2L1524.8 1018.1L1528.7 1026.8L1532.9 1035.6M1547.1 1063.7L1551.8 1072.5L1556.8 1081.5L1561.7 1090.2M1578.7 1118.5L1584.1 1127.6L1589.7 1136.2L1595.6 1144.8M1619.1 1173.2L1625.4 1179.6L1631.8 1185.6L1638.3 1191.4L1645.3 1197.2M1673.5 1218L1680 1222.6L1686.7 1227.1L1693.3 1231.6L1699.8 1236.2" stroke="#2f53a4" stroke-width="5.9"/>
</g>
<text id="xl0" class="a" transform="translate(241.7 1298.6) scale(1 1.025)" text-anchor="middle">0.0</text>
<text id="xl1" class="a" transform="translate(560.6 1298.6) scale(1 1.025)" text-anchor="middle">0.1</text>
<text id="xl2" class="a" transform="translate(879.5 1298.6) scale(1 1.025)" text-anchor="middle">0.2</text>
<text id="xl3" class="a" transform="translate(1198.5 1298.6) scale(1 1.025)" text-anchor="middle">0.3</text>
<text id="xl4" class="a" transform="translate(1517.4 1298.6) scale(1 1.025)" text-anchor="middle">0.4</text>
<text id="xl5" class="a" transform="translate(1836.3 1298.6) scale(1 1.025)" text-anchor="middle">0.5</text>
<text id="yl0" class="a" transform="translate(216.6 62.9) scale(1 1.025)" text-anchor="end">2.0</text>
<text id="yl1" class="a" transform="translate(216.6 260.7) scale(1 1.025)" text-anchor="end">1.8</text>
<text id="yl2" class="a" transform="translate(216.6 458.5) scale(1 1.025)" text-anchor="end">1.6</text>
<text id="yl3" class="a" transform="translate(216.6 656.4) scale(1 1.025)" text-anchor="end">1.4</text>
<text id="yl4" class="a" transform="translate(216.6 854.2) scale(1 1.025)" text-anchor="end">1.2</text>
<text id="yl5" class="a" transform="translate(216.6 1052.0) scale(1 1.025)" text-anchor="end">1.0</text>
<text id="yl6" class="a" transform="translate(216.6 1249.8) scale(1 1.025)" text-anchor="end">0.8</text>
<text id="l1a" class="s" font-size="58.5" x="482.00" y="255.20" style="font-family:'Noto Serif CJK SC','Liberation Serif',serif">λ</text>
<text id="l1b" class="s" font-size="70.5" style="font-family:'Noto Serif CJK SC','Liberation Serif',serif" stroke="#231f20" stroke-width="1.0" stroke-linejoin="round" transform="translate(517.50 259.20) scale(1.000 0.800)">=</text>
<text id="l1c" class="s" font-size="70.5" transform="translate(556.50 254.70) scale(0.920 1.000)">1</text>
<text id="l2a" class="s" font-size="58.5" x="482.00" y="347.80" style="font-family:'Noto Serif CJK SC','Liberation Serif',serif">λ</text>
<text id="l2b" class="s" font-size="70.5" style="font-family:'Noto Serif CJK SC','Liberation Serif',serif" stroke="#231f20" stroke-width="1.0" stroke-linejoin="round" transform="translate(517.50 351.80) scale(1.000 0.800)">=</text>
<text id="l2c" class="s" font-size="70.5" transform="translate(557.50 347.30) scale(0.960 1.000)">2</text>
<text id="l3a" class="s" font-size="58.5" x="482.00" y="440.30" style="font-family:'Noto Serif CJK SC','Liberation Serif',serif">λ</text>
<text id="l3b" class="s" font-size="70.5" style="font-family:'Noto Serif CJK SC','Liberation Serif',serif" stroke="#231f20" stroke-width="1.0" stroke-linejoin="round" transform="translate(517.50 444.30) scale(1.000 0.800)">=</text>
<text id="l3c" class="s" font-size="70.5" transform="translate(556.80 439.80) scale(0.950 1.000)">3</text>
<text id="l5a" class="s" font-size="58.5" x="482.00" y="532.50" style="font-family:'Noto Serif CJK SC','Liberation Serif',serif">λ</text>
<text id="l5b" class="s" font-size="70.5" style="font-family:'Noto Serif CJK SC','Liberation Serif',serif" stroke="#231f20" stroke-width="1.0" stroke-linejoin="round" transform="translate(517.50 536.50) scale(1.000 0.800)">=</text>
<text id="l5c" class="s" font-size="70.5" transform="translate(556.80 532.00) scale(0.950 1.000)">5</text>
<text id="tD" class="s" font-size="76.0" x="308.00" y="148.50" font-style="italic">D</text>
<text id="tS" class="s" font-size="76.0" x="364.50" y="148.50" font-style="italic">/</text>
<text id="tL" class="s" font-size="76.0" font-style="italic" transform="translate(384.00 148.50) scale(1.060 1.000)">L</text>
<text id="tE" class="s" font-size="79.0" style="font-family:'Noto Serif CJK SC','Liberation Serif',serif" stroke="#231f20" stroke-width="1.1" stroke-linejoin="round" transform="translate(430.00 146.20) scale(1.020 0.820)">=</text>
<text id="t1" class="s" font-size="76.0" x="477.00" y="148.50">1</text>
<text id="t0" class="s" font-size="76.0" x="515.00" y="148.50">0</text>
<text id="tC" class="s" font-size="66.0" x="556.50" y="148.00">,</text>
<text id="te1" class="s" font-size="88.0" font-style="italic" stroke="#231f20" stroke-width="0.6" stroke-linejoin="round" transform="translate(595.50 149.00) scale(1.100 0.940)">ε</text>
<text id="ts0" class="s" font-size="47.5" x="625.30" y="176.60">0</text>
<text id="tN" class="s" font-size="72.0" style="font-family:'Noto Serif CJK SC','Liberation Serif',serif" stroke="#231f20" stroke-width="0.9" stroke-linejoin="round" transform="translate(644.50 150.00) scale(1.000 0.940)">≠</text>
<text id="tz" class="s" font-size="80.0" x="711.00" y="148.70">0</text>
<text id="tC2" class="s" font-size="66.0" x="750.00" y="148.00">,</text>
<text id="te2" class="s" font-size="88.0" font-style="italic" stroke="#231f20" stroke-width="0.6" stroke-linejoin="round" transform="translate(781.90 149.00) scale(1.100 0.940)">ε</text>
<text id="ts2" class="s" font-size="47.5" x="811.50" y="176.60">2</text>
<text id="tE2" class="s" font-size="77.0" style="font-family:'Noto Serif CJK SC','Liberation Serif',serif" stroke="#231f20" stroke-width="1.1" stroke-linejoin="round" transform="translate(832.00 154.20) scale(1.030 0.850)">=</text>
<text id="tz2" class="s" font-size="76.0" x="877.00" y="148.70">0</text>
<text id="T" class="s" font-size="77.0" font-style="italic" transform="translate(25.00 694.40) scale(1.030 1.000)">T</text>
<text id="Tst" class="s" font-size="41.0" x="77.30" y="659.50">*</text>
<text id="Tv" class="s" font-size="43.5" x="64.00" y="713.70">vdw</text>
<text id="eta" class="s" font-size="100.0" font-style="italic" transform="translate(1051.00 1359.60) skewX(-7) scale(1.120 0.980)">η</text>
<g class="c">
<path d="M314.2 232.3H463.0" stroke="#231f20" stroke-width="6"/>
<path d="M314.2 324.6H463.0" stroke="#6abd45" stroke-width="5.8"/>
<path d="M314.2 417.0H463.0" stroke="#ed1c24" stroke-width="6" stroke-dasharray="3.3 8.6"/>
<path d="M314.2 509.3H463.0" stroke="#2f53a4" stroke-width="6" stroke-dasharray="26 28.8"/>
</g>
</svg></body></html>
